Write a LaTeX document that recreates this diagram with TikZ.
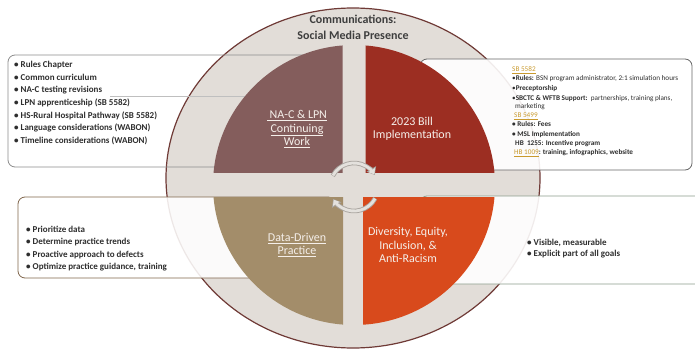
\documentclass[tikz,border=0pt]{standalone}
\usepackage{fontspec}
\setmainfont{Carlito}
\usetikzlibrary{arrows.meta}
\definecolor{outerfill}{HTML}{E2DDD8}
\definecolor{outerline}{HTML}{6F3A36}
\definecolor{qtl}{HTML}{845D5C}
\definecolor{qtr}{HTML}{9C2E22}
\definecolor{qbl}{HTML}{A38D6A}
\definecolor{qbr}{HTML}{D84A1C}
\definecolor{qtext}{HTML}{F5EFEA}
\definecolor{txtdark}{HTML}{2E2E2E}
\definecolor{titletext}{HTML}{3E3E3E}
\definecolor{gold}{HTML}{C99A2E}
\definecolor{arrowgray}{HTML}{E4E1DD}
\definecolor{arrowedge}{HTML}{AAA5A0}
\begin{document}
\begin{tikzpicture}[x=1pt,y=-1pt,
  ltext/.style={anchor=base west, inner sep=0pt, text=txtdark, font=\fontsize{9}{11}\selectfont\bfseries},
  stext/.style={anchor=base west, inner sep=0pt, text=txtdark, font=\fontsize{7.2}{8}\selectfont},
  qlabel/.style={align=center, inner sep=0pt, text=qtext, font=\fontsize{12}{13.5}\selectfont},
  ttl/.style={inner sep=0pt, text=titletext, font=\fontsize{12}{13}\selectfont\bfseries},
  cycout/.style={line width=4.6pt, draw=arrowedge, -{Triangle[width=10.5pt,length=7pt]}},
  cycin/.style={line width=2.8pt, draw=arrowgray, -{Triangle[width=7.5pt,length=5pt]}},
  box/.style={rounded corners=7pt, line width=0.8pt}]
\clip (0,0) rectangle (695,350);
\fill[white] (0,0) rectangle (695,350);
% outer circle
\filldraw[fill=outerfill, draw=outerline, line width=1.2pt] (353,178) ellipse [x radius=187pt, y radius=170pt];
% boxes (behind quadrants)
\draw[box, draw=black!45] (8,55) rectangle (335,167);
\draw[black!25, line width=0.5pt] (110,96) -- (330,96);
\filldraw[box, fill=white, fill opacity=0.88, draw=black!50!brown!80] (18,197) rectangle (335,278);
\filldraw[box, fill=white, fill opacity=0.9, draw=black!60] (420,59) rectangle (692,170);
\filldraw[box, fill=white, fill opacity=0.9, draw=green!15!black!45] (420,196) rectangle (720,284);
% title
\node[ttl] (t1) at (353,19) {Communications:};
\node[ttl] (t2) at (353,35) {Social Media Presence};
% quadrants
\begin{scope}\clip (200,30) rectangle (342.5,172); \fill[qtl] (354,185) ellipse [x radius=141pt, y radius=140pt];\end{scope}
\begin{scope}\clip (365.5,30) rectangle (510,172); \fill[qtr] (354,185) ellipse [x radius=141pt, y radius=140pt];\end{scope}
\begin{scope}\clip (200,197) rectangle (343,340); \fill[qbl] (354,185) ellipse [x radius=141pt, y radius=140pt];\end{scope}
\begin{scope}\clip (363,197) rectangle (510,340); \fill[qbr] (354,185) ellipse [x radius=141pt, y radius=140pt];\end{scope}
% quadrant labels
\node[qlabel] (ql1) at (297,129) {\underline{\ NA-C \& LPN}\\\underline{Continuing}\\\underline{Work}};
\node[qlabel] (ql2) at (412,129) {2023 Bill\\Implementation};
\node[qlabel] (ql3) at (297,245) {\underline{Data-Driven}\\\underline{Practice}};
\node[qlabel] (ql4) at (408,245) {Diversity, Equity,\\Inclusion, \&\\Anti-Racism};
% center cycle arrows
\coordinate (cc) at (354,187);
\draw[cycout] ([shift={(152:24pt)}]cc) arc [start angle=152, end angle=30, radius=24pt];
\draw[cycout] ([shift={(-28:24pt)}]cc) arc [start angle=-28, end angle=-150, radius=24pt];
\draw[cycin] ([shift={(151:24pt)}]cc) arc [start angle=151, end angle=32, radius=24pt];
\draw[cycin] ([shift={(-29:24pt)}]cc) arc [start angle=-29, end angle=-148, radius=24pt];
% top-left list
\node[ltext] (a1) at (14,68) {• Rules Chapter};
\node[ltext] (a2) at (14,80.5) {• Common curriculum};
\node[ltext] (a3) at (14,93) {• NA-C testing revisions};
\node[ltext] (a4) at (14,105.5) {• LPN apprenticeship (SB 5582)};
\node[ltext] (a5) at (14,118) {• HS-Rural Hospital Pathway (SB 5582)};
\node[ltext] (a6) at (14,130.5) {• Language considerations (WABON)};
\node[ltext] (a7) at (14,143) {• Timeline considerations (WABON)};
% bottom-left list
\node[ltext] (b1) at (26,232) {• Prioritize data};
\node[ltext] (b2) at (26,244.5) {• Determine practice trends};
\node[ltext] (b3) at (26,257) {• Proactive approach to defects};
\node[ltext] (b4) at (26,269.5) {• Optimize practice guidance, training};
% bottom-right list
\node[ltext] (d1) at (527,245) {• Visible, measurable};
\node[ltext] (d2) at (527,256.5) {• Explicit part of all goals};
% top-right list
\node[stext, text=gold] (c1) at (512,72) {\underline{SB 5582}};
\node[stext] (c2) at (512,81) {•\textbf{Rules:} BSN program administrator, 2:1 simulation hours};
\node[stext] (c3) at (512,90.5) {•\textbf{Preceptorship}};
\node[stext] (c4) at (512,100) {•\textbf{SBCTC \& WFTB Support:}\ \ partnerships, training plans,};
\node[stext] (c5) at (515,108) {marketing};
\node[stext, text=gold] (c6) at (514,117.5) {\underline{SB 5499}};
\node[stext] (c7) at (512,126.5) {\textbf{• Rules: Fees}};
\node[stext] (c8) at (512,136) {\textbf{• MSL Implementation}};
\node[stext] (c9) at (515,145.5) {\textbf{HB\ \ 1255: Incentive program}};
\node[stext] (c10) at (514,154.5) {\textcolor{gold}{\underline{HB 1009}}\textbf{: training, infographics,\ website}};
\end{tikzpicture}
\end{document}
